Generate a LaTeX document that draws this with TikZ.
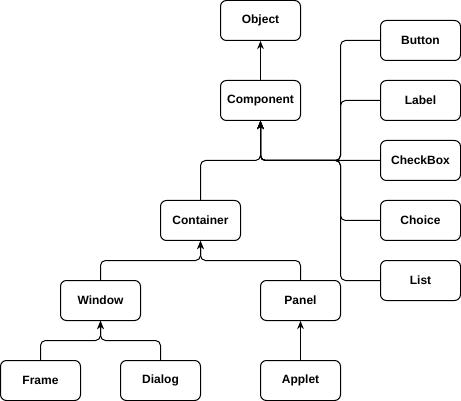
\documentclass[tikz,border=0pt]{standalone}
\usepackage{fontspec}
\setmainfont{Liberation Sans}
\usetikzlibrary{arrows.meta}
\begin{document}
\begin{tikzpicture}[x=1pt,y=-1pt,
  cls/.style={draw, line width=1pt, rounded corners=6pt, fill=white,
    minimum width=80pt, minimum height=40pt, inner sep=0pt,
    font=\bfseries\fontsize{12}{14}\selectfont},
  inh/.style={draw, line width=1pt, rounded corners=5pt,
    -{Stealth[length=8pt,width=6.5pt,inset=2.5pt]}}]
\useasboundingbox (0,0) rectangle (461,401);
\node[cls] (Object) at (260.5,20.5) {Object};
\node[cls] (Component) at (260.5,100.5) {Component};
\node[cls] (Button) at (420.5,40.5) {Button};
\node[cls] (Label) at (420.5,100.5) {Label};
\node[cls] (CheckBox) at (420.5,160.5) {CheckBox};
\node[cls] (Choice) at (420.5,220.5) {Choice};
\node[cls] (List) at (420.5,280.5) {List};
\node[cls] (Container) at (200.5,220.5) {Container};
\node[cls] (Window) at (100.5,300.5) {Window};
\node[cls] (Panel) at (300.5,300.5) {Panel};
\node[cls] (Frame) at (40.5,380.5) {Frame};
\node[cls] (Dialog) at (160.5,380.5) {Dialog};
\node[cls] (Applet) at (300.5,380.5) {Applet};
\coordinate (j) at (340.5,160.5);
\coordinate (b) at (260.5,160.5);
\coordinate (c) at (200.5,260.5);
\coordinate (w) at (100.5,340.5);
\path[inh] (Component) -- (Object);
\path[inh] (Button.west) -| (j) -| (Component.south);
\path[inh] (Label.west) -| (j) -| (Component.south);
\path[inh] (CheckBox.west) -| (Component.south);
\path[inh] (Choice.west) -| (j) -| (Component.south);
\path[inh] (List.west) -| (j) -| (Component.south);
\path[inh] (Container.north) |- (b) -- (Component.south);
\path[inh] (Window.north) |- (c) -- (Container.south);
\path[inh] (Panel.north) |- (c) -- (Container.south);
\path[inh] (Frame.north) |- (w) -- (Window.south);
\path[inh] (Dialog.north) |- (w) -- (Window.south);
\path[inh] (Applet) -- (Panel);
\end{tikzpicture}
\end{document}
